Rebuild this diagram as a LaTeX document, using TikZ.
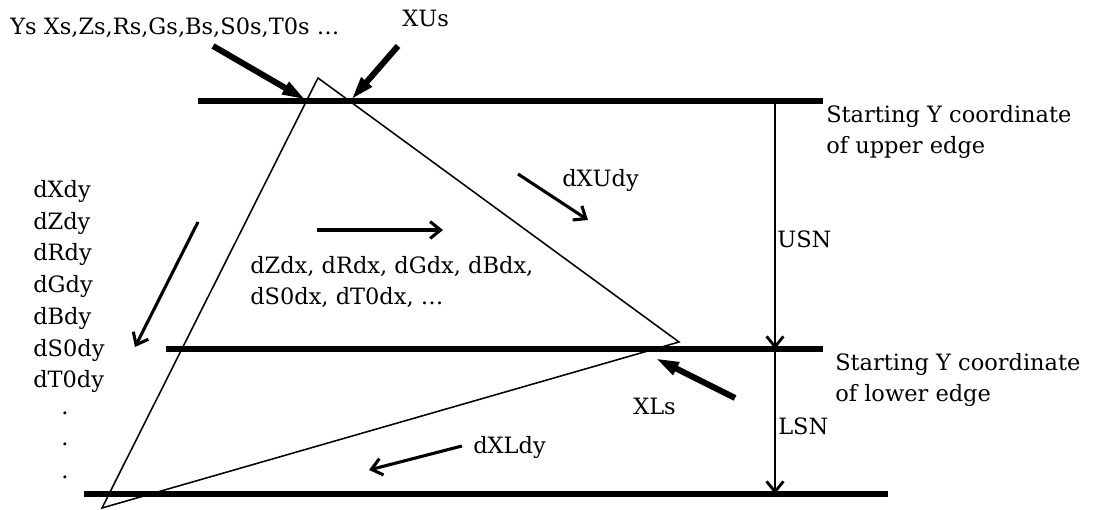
\documentclass[tikz,border=0pt]{standalone}
\usepackage{fontspec}
\setmainfont{DejaVu Serif}
\usetikzlibrary{arrows.meta, positioning, calc}

\begin{document}
\begin{tikzpicture}[
    x=0.025cm, y=-0.025cm,
    lbl/.style={font=\fontsize{16}{22.6}\selectfont, inner sep=0pt, anchor=base west},
    edgeline/.style={line width=3.6pt},
    tri/.style={line width=1.1pt},
    bigarr/.style={-{Triangle[length=6mm, width=3.2mm]}, line width=4.3pt},
    midarr/.style={-{Straight Barb[length=2.6mm, width=4.2mm]}, line width=2.2pt},
    sizearr/.style={-{Straight Barb[length=2.6mm, width=4.2mm]}, line width=2pt}
  ]
    \useasboundingbox (0,0) rectangle (1107,510);

    % edges and span markers
    \coordinate (ul) at (198,101);
    \coordinate (ur) at (823,101);
    \coordinate (ml) at (166,349);
    \coordinate (mr) at (823,349);
    \coordinate (ll) at (84,494);
    \coordinate (lr) at (888,494);
    \coordinate (su) at (775,101);
    \coordinate (sm) at (775,349);
    \coordinate (sl) at (775,494);

    \draw[edgeline] (ul) -- (ur);
    \draw[edgeline] (ml) -- (mr);
    \draw[edgeline] (ll) -- (lr);
    \draw[sizearr] (su) -- (sm);
    \draw[sizearr] (sm) -- (sl);

    % triangle
    \coordinate (vtop) at (318,78);
    \coordinate (vright) at (679,342);
    \coordinate (vbot) at (102,508);
    \draw[tri] (vtop) -- (vright) -- (vbot) -- cycle;

    % labels (multi-line ones sit on their last baseline)
    \node[lbl] (start) at (10,35) {Ys Xs,Zs,Rs,Gs,Bs,S0s,T0s \ldots};
    \node[lbl] (xus) at (402,27) {XUs};
    \node[lbl] (dxudy) at (562,187) {dXUdy};
    \node[lbl, align=left] (upper) at (826,154) {Starting Y coordinate\\of upper edge};
    \node[lbl, align=left] (lower) at (835,402) {Starting Y coordinate\\of lower edge};
    \node[lbl] (usn) at (777,248) {USN};
    \node[lbl] (lsn) at (778,435) {LSN};
    \node[lbl] (xls) at (633,415) {XLs};
    \node[lbl] (dxldy) at (473,454) {dXLdy};
    \node[lbl, align=left] (dxlist) at (250,305) {dZdx, dRdx, dGdx, dBdx,\\dS0dx, dT0dx, \ldots};
    \node[lbl, align=left] (dylist) at (33,388) {dXdy\\dZdy\\dRdy\\dGdy\\dBdy\\dS0dy\\dT0dy};
    \node[lbl] (dot1) at (61,415) {.};
    \node[lbl] (dot2) at (61,446) {.};
    \node[lbl] (dot3) at (61,479) {.};

    % arrows
    \coordinate (a1) at (213,46);   \coordinate (a1e) at (306,100);
    \coordinate (a2) at (398,46);   \coordinate (a2e) at (351,100);
    \coordinate (a3) at (735,398);  \coordinate (a3e) at (655,358);
    \coordinate (b1) at (518,174);  \coordinate (b1e) at (588,220);
    \coordinate (b2) at (317,230);  \coordinate (b2e) at (443,230);
    \coordinate (b3) at (198,222);  \coordinate (b3e) at (135,347);
    \coordinate (b4) at (462,446);  \coordinate (b4e) at (369,470);

    \draw[bigarr] (a1) -- (a1e);
    \draw[bigarr] (a2) -- (a2e);
    \draw[bigarr] (a3) -- (a3e);
    \draw[midarr] (b1) -- (b1e);
    \draw[midarr] (b2) -- (b2e);
    \draw[midarr] (b3) -- (b3e);
    \draw[midarr] (b4) -- (b4e);
\end{tikzpicture}
\end{document}
